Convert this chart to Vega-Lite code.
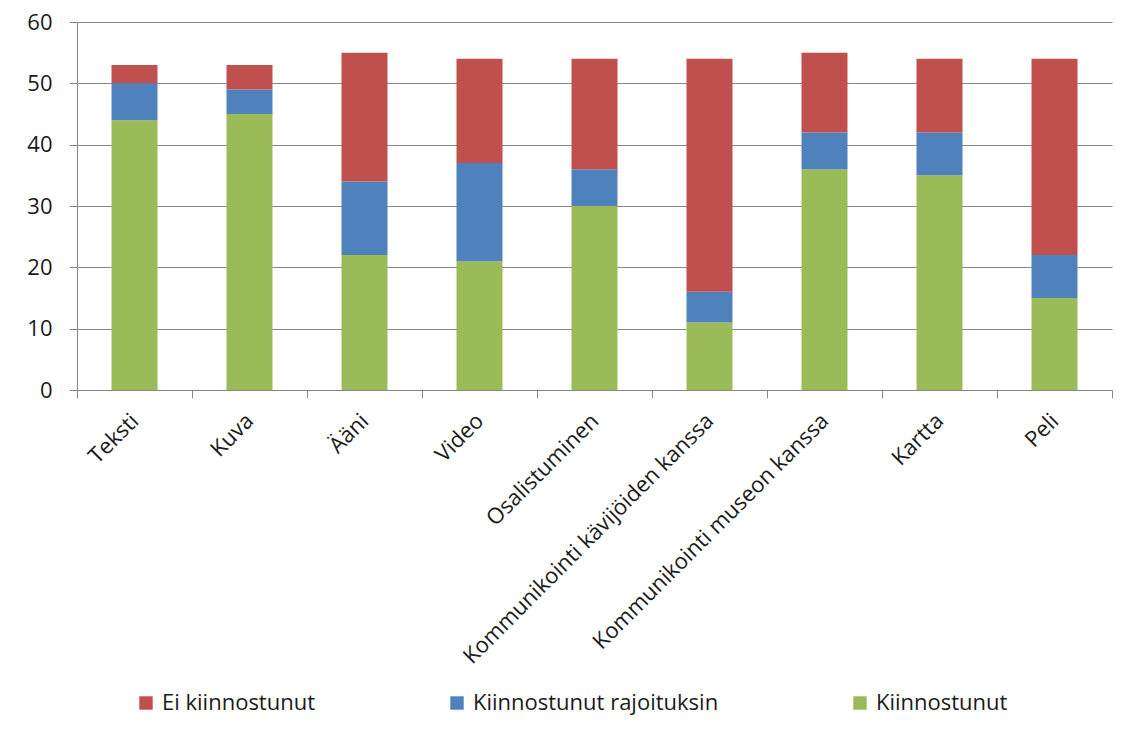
{
  "$schema": "https://vega.github.io/schema/vega-lite/v6.json",
  "width": 1035,
  "height": 368,
  "autosize": {"type": "none"},
  "padding": {"left": 77, "top": 22, "right": 14, "bottom": 354},
  "background": "white",
  "config": {
    "view": {"stroke": null},
    "font": "Open Sans",
    "axis": {
      "labelFont": "Open Sans",
      "labelFontSize": 22,
      "labelColor": "#1a1a1a",
      "domainColor": "#868686",
      "tickColor": "#868686",
      "gridColor": "#868686",
      "domainWidth": 1,
      "tickWidth": 1,
      "gridWidth": 1
    },
    "legend": {
      "labelFont": "Open Sans",
      "labelFontSize": 22,
      "labelColor": "#1a1a1a",
      "labelLimit": 600
    }
  },
  "data": {
    "values": [
      {"category": "Teksti", "status": "Kiinnostunut", "value": 44},
      {"category": "Teksti", "status": "Kiinnostunut rajoituksin", "value": 6},
      {"category": "Teksti", "status": "Ei kiinnostunut", "value": 3},
      {"category": "Kuva", "status": "Kiinnostunut", "value": 45},
      {"category": "Kuva", "status": "Kiinnostunut rajoituksin", "value": 4},
      {"category": "Kuva", "status": "Ei kiinnostunut", "value": 4},
      {"category": "Ääni", "status": "Kiinnostunut", "value": 22},
      {"category": "Ääni", "status": "Kiinnostunut rajoituksin", "value": 12},
      {"category": "Ääni", "status": "Ei kiinnostunut", "value": 21},
      {"category": "Video", "status": "Kiinnostunut", "value": 21},
      {"category": "Video", "status": "Kiinnostunut rajoituksin", "value": 16},
      {"category": "Video", "status": "Ei kiinnostunut", "value": 17},
      {"category": "Osalistuminen", "status": "Kiinnostunut", "value": 30},
      {"category": "Osalistuminen", "status": "Kiinnostunut rajoituksin", "value": 6},
      {"category": "Osalistuminen", "status": "Ei kiinnostunut", "value": 18},
      {"category": "Kommunikointi kävijöiden kanssa", "status": "Kiinnostunut", "value": 11},
      {"category": "Kommunikointi kävijöiden kanssa", "status": "Kiinnostunut rajoituksin", "value": 5},
      {"category": "Kommunikointi kävijöiden kanssa", "status": "Ei kiinnostunut", "value": 38},
      {"category": "Kommunikointi museon kanssa", "status": "Kiinnostunut", "value": 36},
      {"category": "Kommunikointi museon kanssa", "status": "Kiinnostunut rajoituksin", "value": 6},
      {"category": "Kommunikointi museon kanssa", "status": "Ei kiinnostunut", "value": 13},
      {"category": "Kartta", "status": "Kiinnostunut", "value": 35},
      {"category": "Kartta", "status": "Kiinnostunut rajoituksin", "value": 7},
      {"category": "Kartta", "status": "Ei kiinnostunut", "value": 12},
      {"category": "Peli", "status": "Kiinnostunut", "value": 15},
      {"category": "Peli", "status": "Kiinnostunut rajoituksin", "value": 7},
      {"category": "Peli", "status": "Ei kiinnostunut", "value": 32}
    ]
  },
  "transform": [
    {"calculate": "indexof(['Kiinnostunut','Kiinnostunut rajoituksin','Ei kiinnostunut'], datum.status)", "as": "stackRank"}
  ],
  "mark": {"type": "bar", "width": {"band": 0.4}},
  "encoding": {
    "x": {
      "field": "category",
      "type": "nominal",
      "sort": null,
      "scale": {"paddingInner": 0, "paddingOuter": 0},
      "axis": {
        "title": null,
        "labelAngle": -45,
        "labelAlign": "right",
        "labelBaseline": "middle",
        "labelPadding": 19,
        "tickBand": "extent",
        "tickSize": 8,
        "grid": false,
        "labelLimit": 600
      }
    },
    "y": {
      "field": "value",
      "type": "quantitative",
      "stack": "zero",
      "scale": {"domain": [0, 60], "nice": false},
      "axis": {
        "title": null,
        "values": [0, 10, 20, 30, 40, 50, 60],
        "tickSize": 8,
        "labelPadding": 17,
        "grid": true
      }
    },
    "color": {
      "field": "status",
      "type": "nominal",
      "scale": {
        "domain": ["Ei kiinnostunut", "Kiinnostunut rajoituksin", "Kiinnostunut"],
        "range": ["#C0504D", "#4F81BD", "#9BBB59"]
      },
      "legend": {
        "title": null,
        "orient": "none",
        "direction": "horizontal",
        "legendX": 58,
        "legendY": 670,
        "symbolType": "square",
        "symbolSize": 180,
        "symbolStrokeWidth": 0,
        "labelOffset": 5,
        "labelLimit": 600,
        "columnPadding": 130
      }
    },
    "order": {"field": "stackRank", "type": "quantitative"}
  }
}
